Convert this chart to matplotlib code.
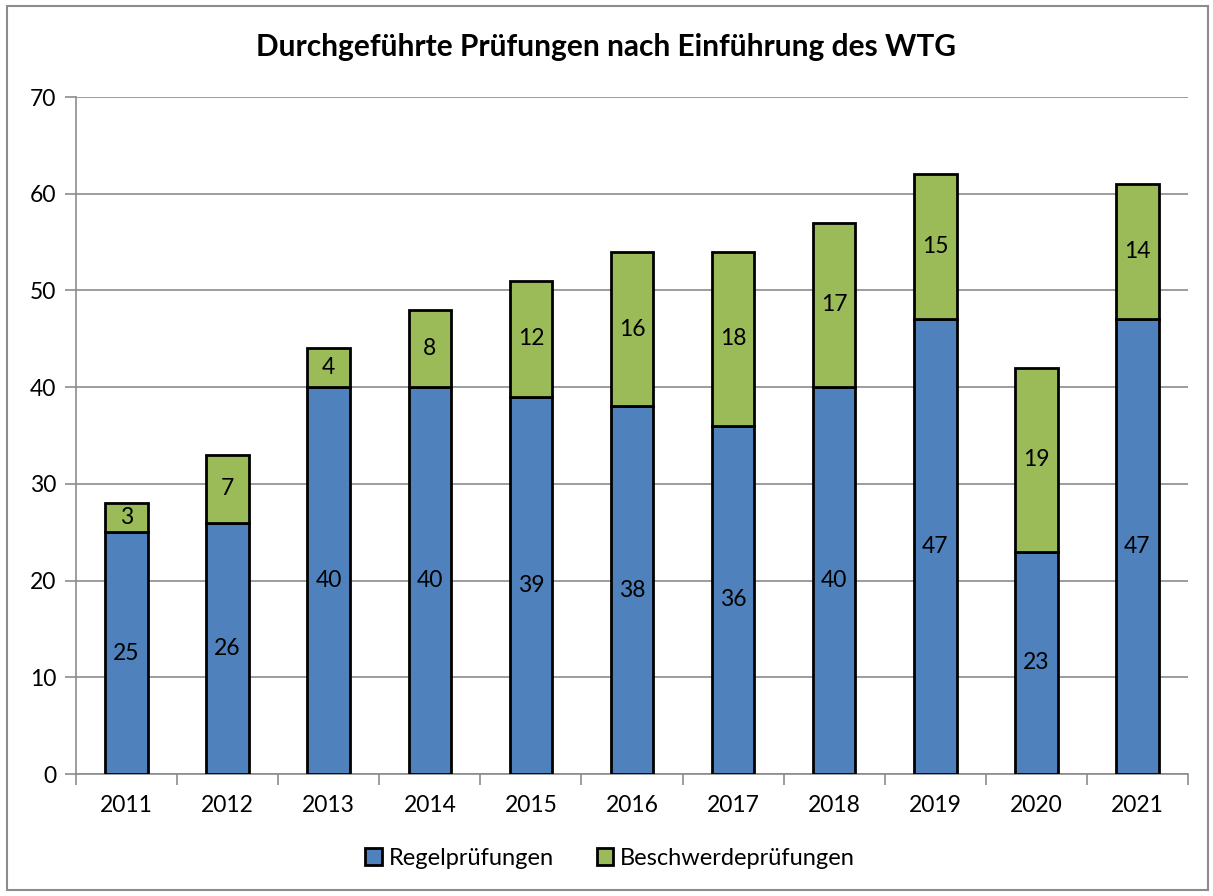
import matplotlib
matplotlib.use("Agg")
import matplotlib.pyplot as plt
from matplotlib.patches import Rectangle
import numpy as np

years = ["2011", "2012", "2013", "2014", "2015", "2016", "2017", "2018", "2019", "2020", "2021"]
regel = [25, 26, 40, 40, 39, 38, 36, 40, 47, 23, 47]
beschwerde = [3, 7, 4, 8, 12, 16, 18, 17, 15, 19, 14]
title = "Durchgeführte Prüfungen nach Einführung des WTG"
series_names = ["Regelprüfungen", "Beschwerdeprüfungen"]

blue = "#4F81BD"
green = "#9BBB59"
grid_c = "#8C8C8C"

plt.rcParams['font.family'] = ['Lato', 'DejaVu Sans']

fig = plt.figure(figsize=(12.13, 8.96), dpi=100)
fig.patches.append(Rectangle((7/1213, 6/896), 1201/1213, 884/896, transform=fig.transFigure,
                             fill=False, edgecolor="#8C8C8C", linewidth=1.5))
ax = fig.add_axes([76/1213, 1-774/896, (1188-76)/1213, (774-97)/896])

x = np.arange(len(years))
w = 0.42
b1 = ax.bar(x, regel, w, color=blue, edgecolor="black", linewidth=2, zorder=3)
b2 = ax.bar(x, beschwerde, w, bottom=regel, color=green, edgecolor="black", linewidth=2, zorder=3)
ax.bar_label(b1, label_type="center", fontsize=16.5, zorder=4)
ax.bar_label(b2, label_type="center", fontsize=16.5, zorder=4)

ax.set_xlim(-0.5, len(years) - 0.5)
ax.set_ylim(0, 70)
ax.set_yticks(range(0, 71, 10))
ax.yaxis.grid(True, color=grid_c, linewidth=1.2, zorder=0)
ax.set_axisbelow(True)
for s in ["top", "right"]:
    ax.spines[s].set_visible(False)
ax.spines["left"].set_color(grid_c)
ax.spines["bottom"].set_color(grid_c)
ax.spines["left"].set_linewidth(1.2)
ax.spines["bottom"].set_linewidth(1.2)
ax.tick_params(axis="y", length=8, color=grid_c, width=1.2, labelsize=16.5, pad=6)
ax.set_xticks(x)
ax.set_xticklabels(years)
ax.tick_params(axis="x", length=0, labelsize=16.5, pad=15)
ax.set_xticks(np.arange(-0.5, len(years), 1), minor=True)
ax.tick_params(axis="x", which="minor", length=8, color=grid_c, width=1.2)

fig.text(0.5, 1-47/896, title, ha="center", va="center", fontsize=21.5, fontweight="bold")

handles = [Rectangle((0, 0), 1, 1, facecolor=blue, edgecolor="black", linewidth=2),
           Rectangle((0, 0), 1, 1, facecolor=green, edgecolor="black", linewidth=2)]
fig.legend(handles, series_names, loc="center", bbox_to_anchor=(0.503, 1-858/896), ncol=2,
           frameon=False, fontsize=17, handlelength=0.7, handleheight=0.7, handletextpad=0.3,
           columnspacing=1.8)

fig.savefig("out.png", dpi=100)
